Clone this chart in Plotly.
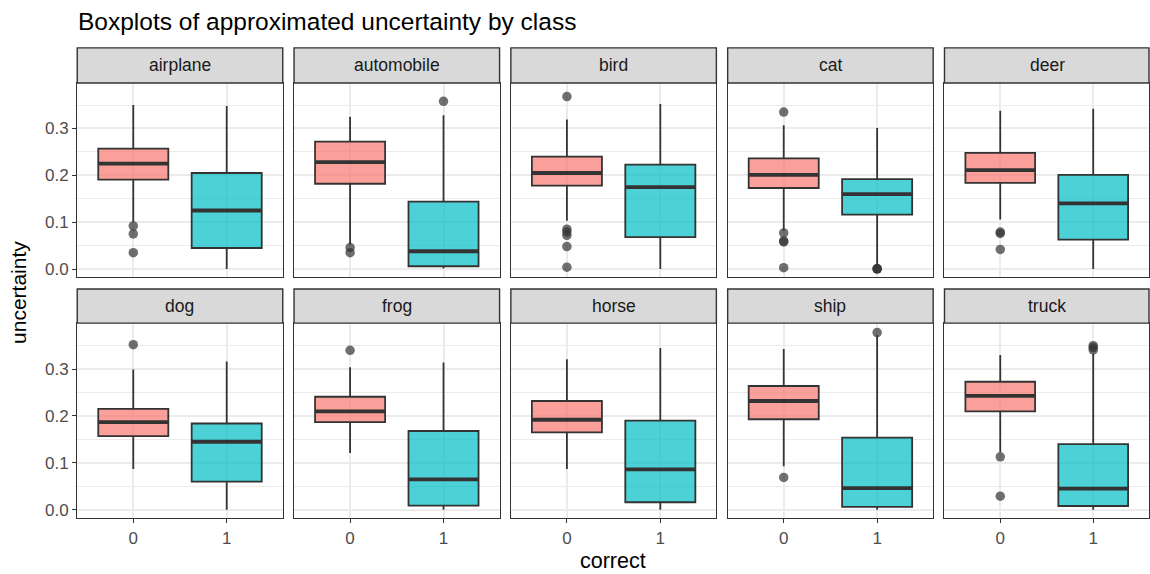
import plotly.graph_objects as go

classes = ["airplane", "automobile", "bird", "cat", "deer",
           "dog", "frog", "horse", "ship", "truck"]
correct_levels = [0, 1]
tick_y_vals = [0.0, 0.1, 0.2, 0.3]
tick_y_text = ["0.0", "0.1", "0.2", "0.3"]
tick_x_text = ["0", "1"]

# correct = 0
q1_0 = [0.191, 0.182, 0.178, 0.173, 0.184, 0.157, 0.187, 0.165, 0.193, 0.210]
med_0 = [0.225, 0.228, 0.205, 0.201, 0.211, 0.187, 0.210, 0.192, 0.232, 0.243]
q3_0 = [0.257, 0.272, 0.240, 0.236, 0.248, 0.215, 0.241, 0.232, 0.264, 0.273]
lo_0 = [0.100, 0.053, 0.103, 0.082, 0.106, 0.087, 0.121, 0.087, 0.093, 0.123]
hi_0 = [0.350, 0.325, 0.319, 0.307, 0.338, 0.299, 0.304, 0.321, 0.343, 0.330]
out_0 = [[0.092, 0.075, 0.035],
         [0.046, 0.035],
         [0.368, 0.085, 0.079, 0.072, 0.048, 0.004],
         [0.335, 0.077, 0.060, 0.058, 0.003],
         [0.079, 0.076, 0.042],
         [0.352],
         [0.340],
         [],
         [0.069],
         [0.113, 0.029]]

# correct = 1
q1_1 = [0.045, 0.006, 0.068, 0.116, 0.063, 0.060, 0.009, 0.016, 0.006, 0.008]
med_1 = [0.125, 0.038, 0.175, 0.160, 0.140, 0.145, 0.065, 0.086, 0.046, 0.045]
q3_1 = [0.205, 0.144, 0.223, 0.192, 0.201, 0.184, 0.168, 0.190, 0.154, 0.140]
lo_1 = [0.000, 0.001, 0.000, 0.003, 0.000, 0.000, 0.000, 0.000, 0.000, 0.000]
hi_1 = [0.348, 0.328, 0.352, 0.301, 0.342, 0.316, 0.314, 0.345, 0.372, 0.333]
out_1 = [[],
         [0.358],
         [],
         [0.000, 0.0005, 0.001],
         [],
         [],
         [],
         [],
         [0.378],
         [0.350, 0.346, 0.341]]

stats = {
    0: dict(q1=q1_0, med=med_0, q3=q3_0, lo=lo_0, hi=hi_0, out=out_0,
            fill="rgba(248,118,109,0.7)"),
    1: dict(q1=q1_1, med=med_1, q3=q3_1, lo=lo_1, hi=hi_1, out=out_1,
            fill="rgba(0,191,196,0.7)"),
}

W, H = 1150, 574
FONT = "Liberation Sans, Arial, Helvetica, sans-serif"
BOX_W = 0.75
DARK = "#333333"
GRID = "#EBEBEB"


def fx(p):
    return p / W


def fy(p):
    return 1 - p / H


panel_left = [77.3 + 217.0 * c for c in range(5)]
panel_w = 205.7
rows = [dict(strip=(48.0, 83.3), panel=(83.3, 278.0), yr=[-0.017, 0.397]),
        dict(strip=(290.0, 324.3), panel=(324.3, 520.0), yr=[-0.018, 0.398])]

fig = go.Figure()
layout = dict(
    width=W, height=H,
    margin=dict(l=0, r=0, t=0, b=0),
    paper_bgcolor="white", plot_bgcolor="white",
    showlegend=False,
    font=dict(family=FONT, color="#4D4D4D", size=17),
)
shapes = []
annotations = []

for i, cls in enumerate(classes):
    r, c = divmod(i, 5)
    k = i + 1
    xs = "" if k == 1 else str(k)
    x0 = panel_left[c]
    x1 = min(x0 + panel_w, W)
    row = rows[r]
    pt, pb = row["panel"]

    layout["xaxis" + xs] = dict(
        domain=[fx(x0), fx(x1)], anchor="y" + xs,
        range=[-0.6, 1.6], tickvals=correct_levels, ticktext=tick_x_text,
        showticklabels=(r == 1), ticks="outside" if r == 1 else "",
        ticklen=4, tickwidth=1.4, tickcolor=DARK,
        tickfont=dict(size=17, color="#4D4D4D"),
        showgrid=True, gridcolor=GRID, gridwidth=1.5, zeroline=False,
        showline=True, mirror=True, linecolor=DARK, linewidth=1.4,
        fixedrange=True,
    )
    layout["yaxis" + xs] = dict(
        domain=[fy(pb), fy(pt)], anchor="x" + xs,
        range=row["yr"], tickvals=tick_y_vals, ticktext=tick_y_text,
        showticklabels=(c == 0), ticks="outside" if c == 0 else "",
        ticklen=4, tickwidth=1.4, tickcolor=DARK,
        tickfont=dict(size=17, color="#4D4D4D"),
        showgrid=True, gridcolor=GRID, gridwidth=1.5, zeroline=False,
        minor=dict(tickvals=[0.05, 0.15, 0.25, 0.35], showgrid=True,
                   gridcolor=GRID, gridwidth=0.8, ticks=""),
        showline=True, mirror=True, linecolor=DARK, linewidth=1.4,
        fixedrange=True,
    )

    # strip
    st, sb = row["strip"]
    shapes.append(dict(type="rect", xref="paper", yref="paper",
                       x0=fx(x0), x1=fx(x1), y0=fy(sb), y1=fy(st),
                       fillcolor="#D9D9D9", line=dict(color=DARK, width=1.4)))
    annotations.append(dict(text=cls, xref="paper", yref="paper",
                            x=fx((x0 + x0 + panel_w) / 2), y=fy((st + sb) / 2),
                            xanchor="center", yanchor="middle", showarrow=False,
                            font=dict(size=17.5, color="#1A1A1A", family=FONT)))

    for j in correct_levels:
        s = stats[j]
        outs = s["out"][i]
        if outs:
            fig.add_trace(go.Scatter(
                x=[j] * len(outs), y=outs, mode="markers",
                marker=dict(size=9.5, color="rgba(51,51,51,0.7)", line=dict(width=0)),
                xaxis="x" + xs, yaxis="y" + xs, hoverinfo="y"))
        fig.add_trace(go.Box(
            x=[j], q1=[s["q1"][i]], median=[s["med"][i]], q3=[s["q3"][i]],
            lowerfence=[s["lo"][i]], upperfence=[s["hi"][i]],
            orientation="v", width=BOX_W, whiskerwidth=0, boxpoints=False,
            fillcolor=s["fill"], line=dict(color=DARK, width=1.8),
            xaxis="x" + xs, yaxis="y" + xs))
        fig.add_trace(go.Scatter(
            x=[j - BOX_W / 2, j + BOX_W / 2], y=[s["med"][i]] * 2, mode="lines",
            line=dict(color=DARK, width=3.8), xaxis="x" + xs, yaxis="y" + xs,
            hoverinfo="skip"))

annotations.append(dict(text="Boxplots of approximated uncertainty by class",
                        xref="paper", yref="paper", x=fx(76), y=fy(22),
                        xanchor="left", yanchor="middle", showarrow=False,
                        font=dict(size=24.5, color="#000000", family=FONT)))
annotations.append(dict(text="correct", xref="paper", yref="paper",
                        x=fx(613.6), y=fy(563), xanchor="center", yanchor="middle",
                        showarrow=False, font=dict(size=21.5, color="#000000", family=FONT)))
annotations.append(dict(text="uncertainty", xref="paper", yref="paper",
                        x=fx(19), y=fy(293), xanchor="center", yanchor="middle",
                        textangle=-90, showarrow=False,
                        font=dict(size=21, color="#000000", family=FONT)))

layout["shapes"] = shapes
layout["annotations"] = annotations
fig.update_layout(**layout)
fig.write_html("out.html")
